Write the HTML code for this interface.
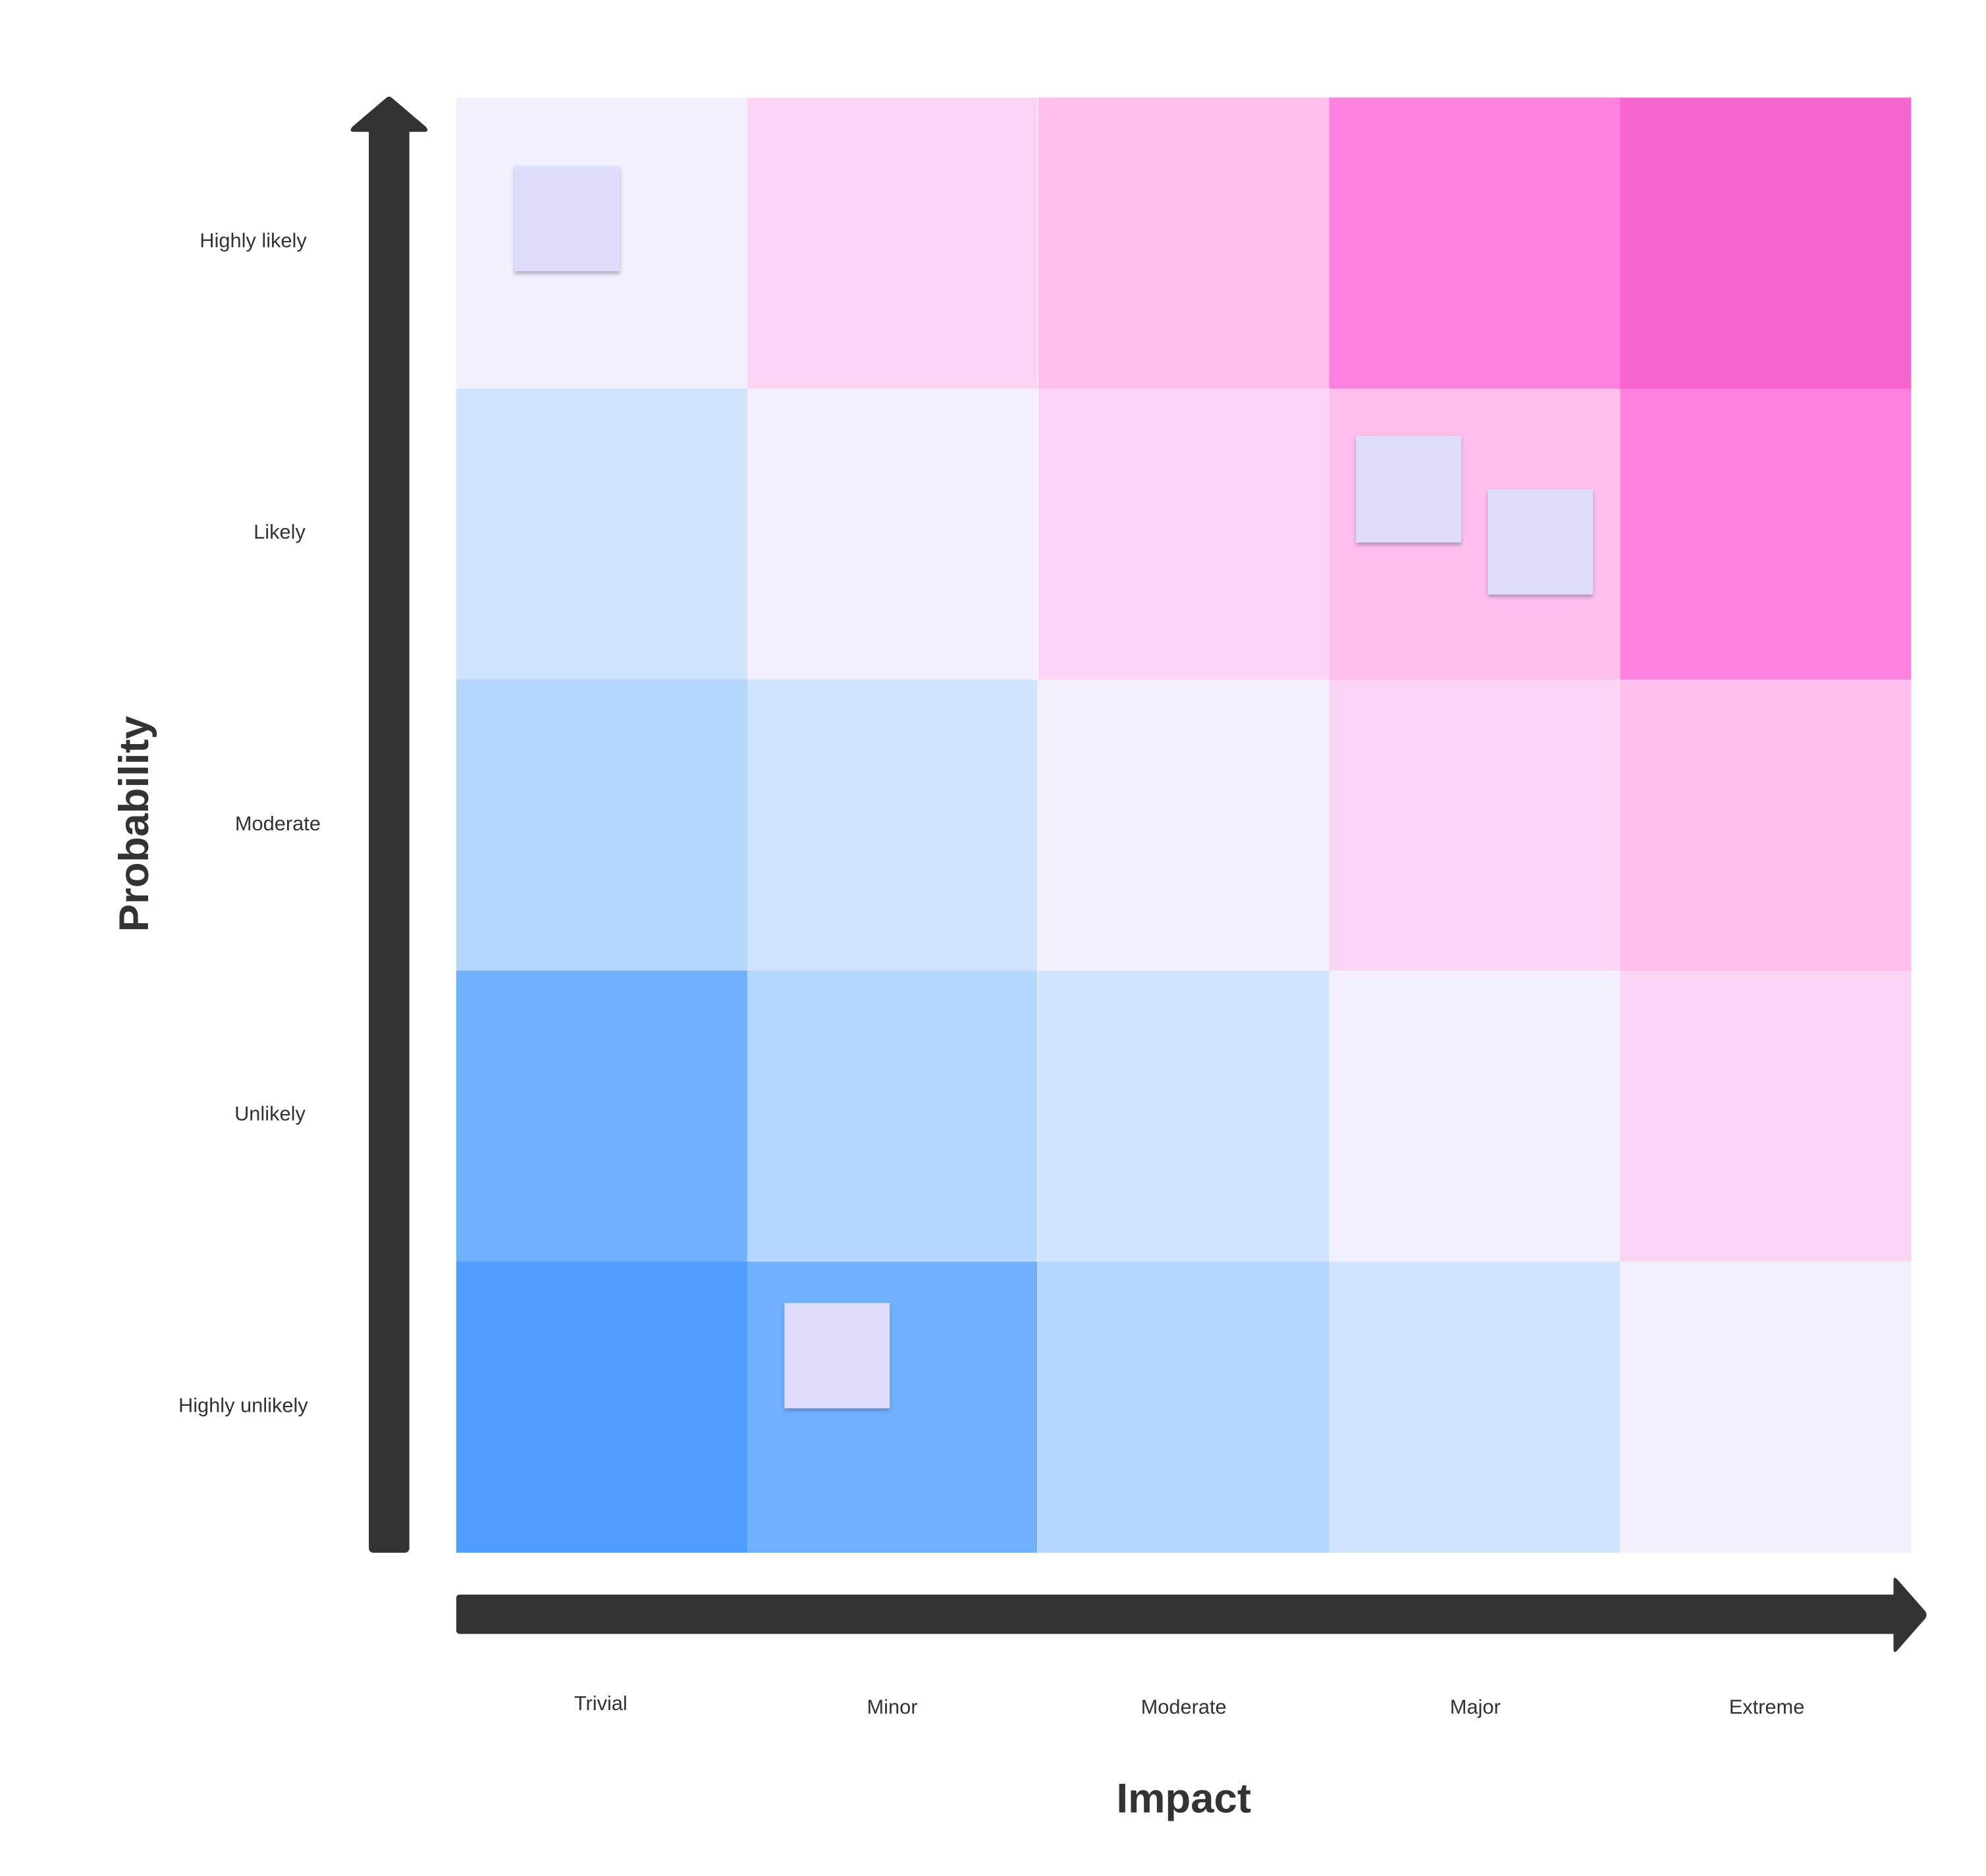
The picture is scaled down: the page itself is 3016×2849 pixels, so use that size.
<!DOCTYPE html>
<html><head><meta charset="utf-8"><style>
html,body{margin:0;padding:0;background:#fff;}
svg{display:block;}
text{font-family:"Liberation Sans",Arial,sans-serif;fill:#333;}
</style></head><body>
<svg width="3016" height="2849" viewBox="0 0 1567 1480" preserveAspectRatio="none" xmlns="http://www.w3.org/2000/svg">
<defs>
<filter id="sh" x="-20%" y="-20%" width="140%" height="150%">
<feDropShadow dx="0" dy="2" stdDeviation="1.5" flood-color="#555577" flood-opacity="0.45"/>
</filter>
</defs>
<rect width="1567" height="1480" fill="#fff"/>
<rect x="360" y="77" width="230" height="230" fill="#F1F0FC"/>
<rect x="589.6" y="77" width="230" height="230" fill="#FDD5F4"/>
<rect x="819.2" y="77" width="230" height="230" fill="#FDBFEE"/>
<rect x="1048.8" y="77" width="230" height="230" fill="#FF80DD"/>
<rect x="1278.4" y="77" width="229.6" height="230" fill="#F765D0"/>
<rect x="360" y="306.6" width="230" height="230" fill="#D1E4FE"/>
<rect x="589.6" y="306.6" width="230" height="230" fill="#F1F0FC"/>
<rect x="819.2" y="306.6" width="230" height="230" fill="#FDD5F4"/>
<rect x="1048.8" y="306.6" width="230" height="230" fill="#FDBFEE"/>
<rect x="1278.4" y="306.6" width="229.6" height="230" fill="#FF80DD"/>
<rect x="360" y="536.2" width="230" height="230" fill="#B5D6FE"/>
<rect x="589.6" y="536.2" width="230" height="230" fill="#D1E4FE"/>
<rect x="819.2" y="536.2" width="230" height="230" fill="#F1F0FC"/>
<rect x="1048.8" y="536.2" width="230" height="230" fill="#FDD5F4"/>
<rect x="1278.4" y="536.2" width="229.6" height="230" fill="#FDBFEE"/>
<rect x="360" y="765.8" width="230" height="230" fill="#6FB1FF"/>
<rect x="589.6" y="765.8" width="230" height="230" fill="#B5D6FE"/>
<rect x="819.2" y="765.8" width="230" height="230" fill="#D1E4FE"/>
<rect x="1048.8" y="765.8" width="230" height="230" fill="#F1F0FC"/>
<rect x="1278.4" y="765.8" width="229.6" height="230" fill="#FDD5F4"/>
<rect x="360" y="995.4" width="230" height="229.6" fill="#4F9EFF"/>
<rect x="589.6" y="995.4" width="230" height="229.6" fill="#6FB1FF"/>
<rect x="819.2" y="995.4" width="230" height="229.6" fill="#B5D6FE"/>
<rect x="1048.8" y="995.4" width="230" height="229.6" fill="#D1E4FE"/>
<rect x="1278.4" y="995.4" width="229.6" height="229.6" fill="#F1F0FC"/>
<line x1="818.7" y1="77" x2="818.7" y2="1225" stroke="#fff" stroke-width="0.8" opacity="0.7"/>
<rect x="406" y="131" width="83" height="83" fill="#DEDEFC" filter="url(#sh)"/>
<rect x="1070" y="344" width="83" height="84" fill="#DEDEFC" filter="url(#sh)"/>
<rect x="1174" y="386" width="83" height="83" fill="#DEDEFC" filter="url(#sh)"/>
<rect x="619" y="1028" width="83" height="83" fill="#DEDEFC" filter="url(#sh)"/>
<path d="M291,1221 L291,104 L279,104 Q275,104 278,100 L305,77 Q307,75.5 309,77 L336,100 Q339,104 335,104 L323,104 L323,1221 Q323,1225 319,1225 L295,1225 Q291,1225 291,1221 Z" fill="#333"/>
<path d="M363,1258 L1494,1258 L1494,1247 Q1494,1243 1497,1246 L1519,1271 Q1521,1274 1519,1277 L1497,1302 Q1494,1305 1494,1301 L1494,1289 L363,1289 Q360,1289 360,1286 L360,1261 Q360,1258 363,1258 Z" fill="#333"/>
<g font-size="16">
<text x="242" y="195" text-anchor="end">Highly likely</text>
<text x="241" y="425" text-anchor="end">Likely</text>
<text x="253" y="655" text-anchor="end">Moderate</text>
<text x="241" y="884" text-anchor="end">Unlikely</text>
<text x="243" y="1114" text-anchor="end">Highly unlikely</text>
</g>
<g font-size="16" text-anchor="middle">
<text x="474" y="1349">Trivial</text>
<text x="704" y="1352">Minor</text>
<text x="934" y="1352">Moderate</text>
<text x="1164" y="1352">Major</text>
<text x="1394" y="1352">Extreme</text>
</g>
<text x="934" y="1430" font-size="33" font-weight="bold" text-anchor="middle">Impact</text>
<text transform="translate(117,650) rotate(-90)" font-size="33" font-weight="bold" text-anchor="middle">Probability</text>
</svg>
</body></html>
